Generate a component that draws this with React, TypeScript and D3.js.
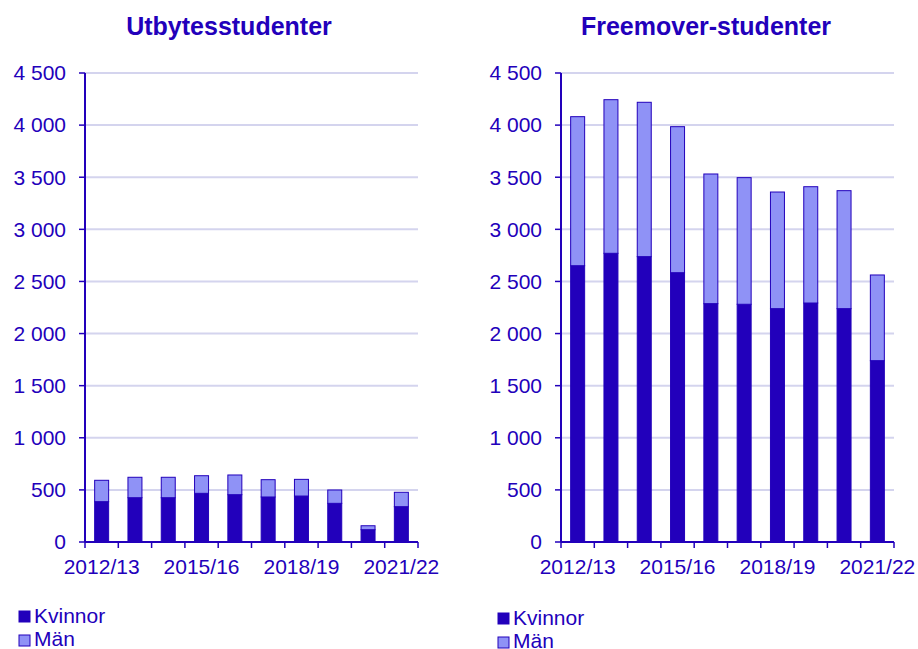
import React from 'react';
import * as d3 from 'd3';

const years = ['2012/13', '2013/14', '2014/15', '2015/16', '2016/17', '2017/18', '2018/19', '2019/20', '2020/21', '2021/22'];
const tickYears = ['2012/13', '2015/16', '2018/19', '2021/22'];

const utbKvinnor = [387, 425, 425, 467, 454, 432, 441, 371, 118, 339];
const utbMan = [205, 196, 196, 169, 189, 166, 160, 128, 38, 138];

const freeKvinnor = [2651, 2770, 2738, 2584, 2287, 2281, 2239, 2293, 2239, 1740];
const freeMan = [1430, 1474, 1481, 1401, 1244, 1215, 1119, 1116, 1132, 822];

const yTicks = [0, 500, 1000, 1500, 2000, 2500, 3000, 3500, 4000, 4500];

const DARK = '#2200bb';
const LIGHT = '#8f92f6';
const GRID = '#d4d4ee';
const FONT = 'Arial, "Liberation Sans", sans-serif';

const fmt = (v: number) => d3.format(',')(v).replace(/,/g, ' ');

type PanelProps = {
  title: string;
  kvinnor: number[];
  man: number[];
  left: number;
  right: number;
  titleX: number;
  legendX: number;
  legendY: number;
};

const Panel = ({ title, kvinnor, man, left, right, titleX, legendX, legendY }: PanelProps) => {
  const top = 73;
  const bottom = 542;
  const x = d3.scaleBand<string>().domain(years).range([left, right]).paddingInner(0.58).paddingOuter(0.29);
  const y = d3.scaleLinear().domain([0, 4500]).range([bottom, top]);
  const bw = x.bandwidth();
  const edges = d3.range(years.length + 1).map(i => left + i * ((right - left) / years.length));

  return (
    <g>
      <text x={titleX} y={35} textAnchor="middle" fontFamily={FONT} fontWeight="bold" fontSize={25} fill={DARK}>{title}</text>
      {yTicks.map(t => (
        <g key={t}>
          {t > 0 && <line x1={left} x2={right} y1={y(t)} y2={y(t)} stroke={GRID} strokeWidth={2} />}
          <line x1={left - 6} x2={left} y1={y(t)} y2={y(t)} stroke={DARK} strokeWidth={1.5} />
          <text x={left - 19} y={y(t)} dy="0.35em" textAnchor="end" fontFamily={FONT} fontSize={21} fill={DARK}>{fmt(t)}</text>
        </g>
      ))}
      {years.map((yr, i) => (
        <g key={yr}>
          <rect x={x(yr)} y={y(kvinnor[i])} width={bw} height={bottom - y(kvinnor[i])} fill={DARK} stroke={DARK} strokeWidth={1} />
          <rect x={x(yr)} y={y(kvinnor[i] + man[i])} width={bw} height={y(kvinnor[i]) - y(kvinnor[i] + man[i])} fill={LIGHT} stroke={DARK} strokeWidth={1} />
        </g>
      ))}
      <line x1={left} x2={left} y1={top} y2={bottom} stroke={DARK} strokeWidth={2} />
      <line x1={left} x2={right} y1={bottom} y2={bottom} stroke={DARK} strokeWidth={2} />
      {edges.map((e, i) => (
        <line key={i} x1={e} x2={e} y1={bottom} y2={bottom + 6} stroke={DARK} strokeWidth={1.5} />
      ))}
      {tickYears.map(t => (
        <text key={t} x={(x(t) as number) + bw / 2} y={bottom + 32} textAnchor="middle" fontFamily={FONT} fontSize={21} fill={DARK}>{t}</text>
      ))}
      <rect x={legendX} y={legendY - 12} width={11} height={11} fill={DARK} stroke={DARK} />
      <text x={legendX + 15} y={legendY} fontFamily={FONT} fontSize={21} fill={DARK}>Kvinnor</text>
      <rect x={legendX} y={legendY + 12} width={11} height={11} fill={LIGHT} stroke={DARK} />
      <text x={legendX + 15} y={legendY + 23} fontFamily={FONT} fontSize={21} fill={DARK}>Män</text>
    </g>
  );
};

const App = () => (
  <svg width={918} height={649} style={{ position: 'absolute', left: 0, top: 0, background: '#fff' }}>
    <Panel title="Utbytesstudenter" kvinnor={utbKvinnor} man={utbMan} left={85} right={418} titleX={229} legendX={19} legendY={623} />
    <Panel title="Freemover-studenter" kvinnor={freeKvinnor} man={freeMan} left={561} right={894} titleX={706} legendX={498} legendY={625} />
  </svg>
);

export default App;
